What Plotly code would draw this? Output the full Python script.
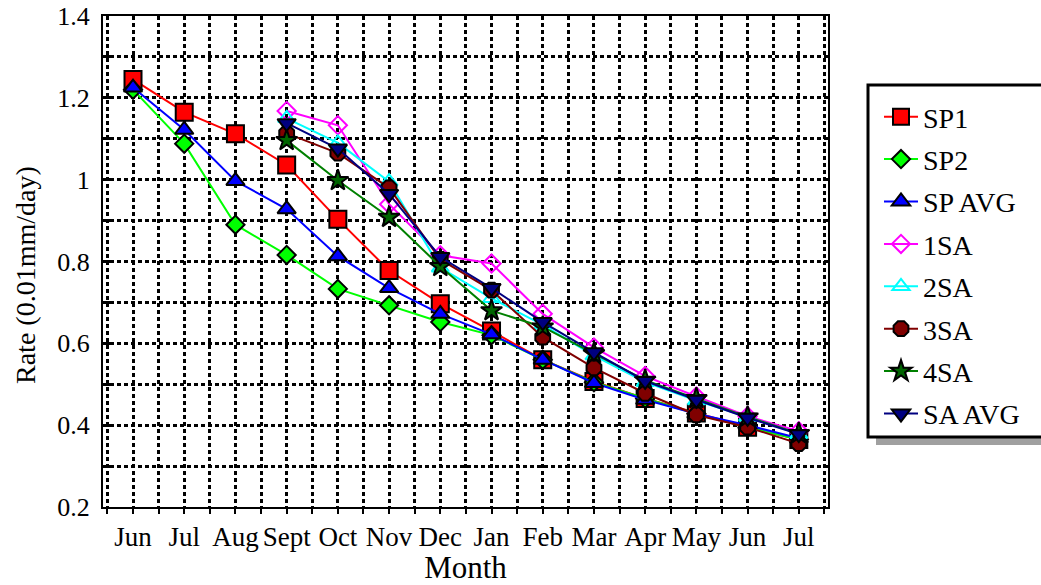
import plotly.graph_objects as go

months = ["Jun", "Jul", "Aug", "Sept", "Oct", "Nov", "Dec", "Jan", "Feb", "Mar", "Apr", "May", "Jun", "Jul"]

sp1 = [1.245, 1.165, 1.112, 1.036, 0.903, 0.778, 0.697, 0.630, 0.560, 0.507, 0.465, 0.430, 0.395, 0.365]
sp2 = [1.220, 1.088, 0.890, 0.816, 0.733, 0.693, 0.652, 0.620, 0.560, 0.505, 0.465, 0.428, 0.395, 0.365]
sp_avg = [1.225, 1.122, 0.997, 0.928, 0.813, 0.735, 0.672, 0.622, 0.560, 0.503, 0.462, 0.428, 0.400, 0.368]
sa1 = [None, None, None, 1.168, 1.133, 0.940, 0.815, 0.795, 0.672, 0.590, 0.520, 0.470, 0.422, 0.385]
sa2 = [None, None, None, 1.150, 1.090, 0.995, 0.785, 0.710, 0.645, 0.570, 0.505, 0.460, 0.420, 0.378]
sa3 = [None, None, None, 1.113, 1.065, 0.980, 0.805, 0.730, 0.615, 0.540, 0.478, 0.425, 0.395, 0.355]
sa4 = [None, None, None, 1.096, 0.998, 0.908, 0.788, 0.680, 0.640, 0.575, 0.510, 0.465, 0.420, 0.380]
sa_avg = [None, None, None, 1.138, 1.076, 0.965, 0.811, 0.735, 0.652, 0.578, 0.508, 0.462, 0.418, 0.378]

x = list(range(len(months)))

series = [
    ("SP1", sp1, "#FF0000", "square", "#FF0000", "black", 17),
    ("SP2", sp2, "#00FF00", "diamond", "#00FF00", "black", 14),
    ("SP AVG", sp_avg, "#0000FF", "triangle-up", "#0000FF", "black", 16),
    ("1SA", sa1, "#FF00FF", "diamond-open", "#FF00FF", "#FF00FF", 14),
    ("2SA", sa2, "#00FFFF", "triangle-up-open", "#00FFFF", "#00FFFF", 15),
    ("3SA", sa3, "#800000", "octagon", "#800000", "black", 16),
    ("4SA", sa4, "#008000", "star", "#006400", "black", 16),
    ("SA AVG", sa_avg, "#000080", "triangle-down", "#000080", "black", 16),
]

fig = go.Figure()
for i, (name, vals, lc, sym, fc, mlc, size) in enumerate(series):
    fig.add_trace(go.Scatter(
        x=x, y=vals, name=name, mode="lines+markers",
        legendgroup=name,
        line=dict(color=lc, width=2),
        marker=dict(symbol=sym, color=fc, size=size,
                    line=dict(color=mlc, width=2)),
        connectgaps=False,
    ))

font_family = "Liberation Serif"

# plot area in pixels: x 103..828, y 16..507
PL, PR, PT, PB = 103, 828, 16, 507
def px(v):
    return (v - PL) / (PR - PL)
def py(v):
    return (PB - v) / (PB - PT)

# legend drop shadow and frame
fig.add_shape(type="rect", xref="paper", yref="paper",
              x0=px(876), x1=px(1060), y0=py(445), y1=py(92),
              fillcolor="#A0A0A0", line=dict(width=0), layer="above")
fig.add_shape(type="rect", xref="paper", yref="paper",
              x0=px(868), x1=px(1055), y0=py(437), y1=py(85),
              fillcolor="white", line=dict(color="black", width=3), layer="above")

fig.add_annotation(text="Rate (0.01mm/day)", xref="paper", yref="paper",
                   x=px(25), y=py(275), textangle=-90, showarrow=False,
                   font=dict(family=font_family, size=28, color="black"),
                   xanchor="center", yanchor="middle")

grid_w = 2.5
dash = "4px,3px"

fig.update_layout(
    width=1041, height=585,
    margin=dict(l=PL, r=1041 - PR, t=PT, b=585 - PB),
    paper_bgcolor="white", plot_bgcolor="white",
    font=dict(family=font_family, size=26, color="black"),
    showlegend=True,
    legend=dict(
        x=px(879), y=py(92), xanchor="left", yanchor="top",
        bgcolor="rgba(0,0,0,0)", borderwidth=0,
        font=dict(family=font_family, size=28, color="black"),
        tracegroupgap=3,
        itemwidth=34,
    ),
    xaxis=dict(
        range=[-0.586, 13.57], automargin=False,
        tickmode="array", tickvals=x, ticktext=months,
        showgrid=True, gridcolor="black", gridwidth=grid_w, griddash=dash,
        zeroline=False,
        showline=True, linecolor="black", linewidth=2, mirror=True,
        ticks="outside", ticklen=5, tickwidth=2, tickcolor="black",
        minor=dict(dtick=0.5, tick0=0, showgrid=True, gridcolor="black",
                   gridwidth=grid_w, griddash=dash, ticks="outside",
                   ticklen=5, tickwidth=2, tickcolor="black"),
        tickfont=dict(family=font_family, size=27),
        title=dict(text="Month", font=dict(family=font_family, size=31), standoff=0),
    ),
    yaxis=dict(
        range=[0.2, 1.4], automargin=False,
        tickmode="array", tickvals=[0.2, 0.4, 0.6, 0.8, 1.0, 1.2, 1.4],
        ticktext=["0.2", "0.4", "0.6", "0.8", "1", "1.2", "1.4"],
        showgrid=True, gridcolor="black", gridwidth=grid_w, griddash=dash,
        zeroline=False,
        showline=True, linecolor="black", linewidth=2, mirror=True,
        ticks="inside", ticklen=8, tickwidth=3, tickcolor="black",
        minor=dict(dtick=0.1, tick0=0.2, showgrid=True, gridcolor="black",
                   gridwidth=grid_w, griddash=dash, ticks="inside",
                   ticklen=8, tickwidth=3, tickcolor="black"),
        tickfont=dict(family=font_family, size=26),
        ticklabelstandoff=6,
    ),
)

fig.write_html("out.html")
